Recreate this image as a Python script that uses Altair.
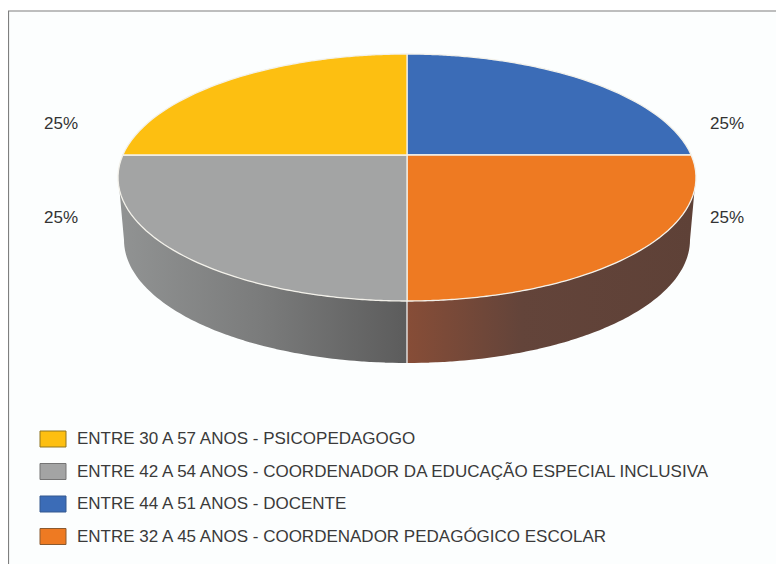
import altair as alt
import numpy as np
import pandas as pd

# ---- chart values ----
slices = ["ENTRE 44 A 51 ANOS - DOCENTE",
          "ENTRE 32 A 45 ANOS - COORDENADOR PEDAGÓGICO ESCOLAR",
          "ENTRE 42 A 54 ANOS - COORDENADOR DA EDUCAÇÃO ESPECIAL INCLUSIVA",
          "ENTRE 30 A 57 ANOS - PSICOPEDAGOGO"]
shares = [25, 25, 25, 25]
fills = ["#3b6cb7", "#ee7a22", "#a3a4a4", "#fdbf11"]
edges = ["#35598f", "#8a5a30", "#757575", "#8f7420"]
legend_order = [3, 2, 0, 1]
label_text = ["25%", "25%", "25%", "25%"]

# ---- geometry of the tilted disc, in page pixels ----
EX, EY, A, B = 407.0, 177.5, 289.0, 123.5     # top ellipse
PX, PY = 407.0, 155.0                          # pie centre as seen in perspective
BX, BY, BA, BB = 407.0, 240.0, 283.0, 123.0    # bottom rim ellipse


def on_rim(theta):
    """Where a ray from the pie centre at clock angle theta meets the top ellipse."""
    dx, dy = np.sin(theta), -np.cos(theta)
    ox, oy = (PX - EX) / A, (PY - EY) / B
    ux, uy = dx / A, dy / B
    a, b, c = ux * ux + uy * uy, 2 * (ox * ux + oy * uy), ox * ox + oy * oy - 1
    t = (-b + np.sqrt(b * b - 4 * a * c)) / (2 * a)
    return PX + t * dx, PY + t * dy


def spans(poly):
    """Turn a polygon into x / upper y / lower y rows for an area mark."""
    poly = np.array(poly)
    xs = np.unique(np.round(poly[:, 0], 3))
    rows = []
    n = len(poly)
    for x in xs:
        hits = []
        for i in range(n):
            (x0, y0), (x1, y1) = poly[i], poly[(i + 1) % n]
            lo, hi = min(x0, x1) - 1e-3, max(x0, x1) + 1e-3
            if lo <= x <= hi:
                if abs(x1 - x0) < 1e-6:
                    hits += [y0, y1]
                else:
                    hits.append(y0 + (y1 - y0) * np.clip((x - x0) / (x1 - x0), 0, 1))
        rows.append((x, min(hits), max(hits)))
    return rows


rows = []
start = 0.0
total = sum(shares)
for name, share in zip(slices, shares):
    end = start + share / total
    arc = [on_rim(2 * np.pi * f) for f in np.linspace(start, end, 90)]
    for x, y0, y1 in spans([(PX, PY)] + arc):
        rows.append({"name": name, "x": x, "y": y0, "y2": y1})
    start = end
top = pd.DataFrame(rows)


def wall(sign):
    upper = [(EX + sign * A * np.cos(t), EY + B * np.sin(t))
             for t in np.linspace(np.pi / 2, np.arcsin(0.1), 60)]
    lower = [(BX + sign * BA * np.cos(t), BY + BB * np.sin(t))
             for t in np.linspace(0, np.pi / 2, 60)]
    return pd.DataFrame(spans(upper + lower), columns=["x", "y", "y2"])


xs = alt.Scale(domain=[8, 776], nice=False, zero=False)
ys = alt.Scale(domain=[564, 8], nice=False, zero=False)
X = alt.X("x:Q", scale=xs, axis=None)
Y = alt.Y("y:Q", scale=ys, axis=None)
colour = alt.Scale(domain=slices, range=fills)
edge = alt.Scale(domain=slices, range=edges)

frame = alt.Chart(pd.DataFrame({"x": [8.5], "x2": [790], "y": [11], "y2": [570]})).mark_rect(
    fill="#fcfefe", stroke="#7f7f7f", strokeWidth=1.2, clip=True
).encode(x=X, x2="x2:Q", y=Y, y2="y2:Q")


def grad(stops):
    return alt.Gradient(gradient="linear", x1=0, x2=1, y1=0, y2=0,
                        stops=[alt.GradientStop(offset=o, color=c) for o, c in stops])


wall_left = alt.Chart(wall(-1)).mark_area(
    color=grad([(0, "#919393"), (0.5, "#7a7b7b"), (1, "#5c5c5c")])
).encode(x=X, y=Y, y2="y2:Q")
wall_right = alt.Chart(wall(1)).mark_area(
    color=grad([(0, "#874d37"), (0.4, "#63443a"), (1, "#5e4137")])
).encode(x=X, y=Y, y2="y2:Q")

seam = alt.Chart(pd.DataFrame({"x": [PX], "y": [300], "y2": [363]})).mark_rule(
    color="#f2f2f2", strokeWidth=1.3
).encode(x=X, y=Y, y2="y2:Q")

disc = alt.Chart(top).mark_area(stroke="#f3f1ea", strokeWidth=1.3).encode(
    x=X, y=Y, y2="y2:Q",
    color=alt.Color("name:N", scale=colour, legend=None),
    detail="name:N",
)

pct = pd.DataFrame({"t": label_text, "x": [61, 727, 61, 727], "y": [123.5, 123.5, 217.5, 217.5]})
pct_marks = alt.Chart(pct).mark_text(
    font="Liberation Sans", fontSize=17, color="#333333", align="center", baseline="middle"
).encode(x=X, y=Y, text="t:N")

leg = pd.DataFrame({"name": [slices[i] for i in legend_order], "row": range(4)})
leg["y"] = 439 + 32.5 * leg["row"] - 8
leg["y2"] = leg["y"] + 16
leg["tx"] = 77
leg["ty"] = leg["y"] + 8
leg["x"] = 40
leg["x2"] = 66

swatches = alt.Chart(leg).mark_rect(strokeWidth=1).encode(
    x=X, x2="x2:Q", y=Y, y2="y2:Q",
    fill=alt.Fill("name:N", scale=colour, legend=None),
    stroke=alt.Stroke("name:N", scale=edge, legend=None),
)
leg_text = alt.Chart(leg).mark_text(
    font="Liberation Sans", fontSize=17, color="#3a3a3a", align="left", baseline="middle"
).encode(x=alt.X("tx:Q", scale=xs, axis=None), y=alt.Y("ty:Q", scale=ys, axis=None), text="name:N")

chart = alt.layer(frame, wall_left, wall_right, seam, disc, pct_marks, swatches, leg_text).properties(
    width=768, height=556, padding=0, autosize=alt.AutoSizeParams(type="none"),
).configure_view(stroke=None)

chart.save("out.html", embed_options={"renderer": "svg", "actions": False})
